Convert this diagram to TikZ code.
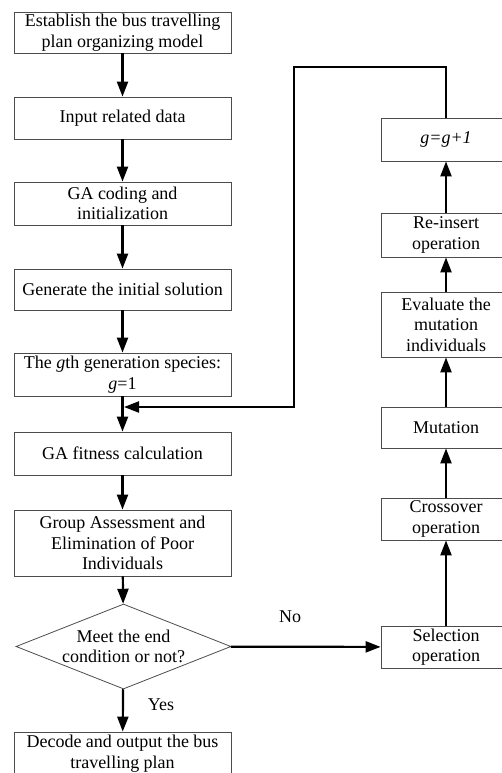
\documentclass[tikz,border=0pt]{standalone}
\usepackage{fontspec}
\setmainfont{Liberation Serif}
\usetikzlibrary{arrows.meta,shapes.geometric}
\tikzset{
  txt/.style={font=\fontsize{18}{20.5}\selectfont},
  lbox/.style={txt,draw=black!70,line width=0.8pt,minimum width=217pt,inner sep=0pt,align=center},
  rbox/.style={txt,draw=black!70,line width=0.8pt,minimum width=130pt,inner sep=0pt,align=center},
  conn/.style={line width=2.2pt,-{Triangle[length=15pt,width=11pt]}},
  plain/.style={line width=2.2pt},
}
\begin{document}
\begin{tikzpicture}[x=1pt,y=-1pt]
\useasboundingbox (0,0) rectangle (501,773);
% left column
\node[lbox,minimum height=41pt] (b1) at (122.5,32.5) {Establish the bus travelling\\plan organizing model};
\node[lbox,minimum height=42pt] (b2) at (122.5,118) {Input related data};
\node[lbox,minimum height=43pt] (b3) at (122.5,203.5) {GA coding and\\initialization};
\node[lbox,minimum height=41pt] (b4) at (122.5,289.5) {Generate the initial solution};
\node[lbox,minimum height=43pt] (b5) at (122.5,374.5) {The \textit{g}th generation species:\\\textit{g}=1};
\node[lbox,minimum height=43pt] (b6) at (122.5,453.5) {GA fitness calculation};
\node[lbox,minimum height=66pt] (b7) at (122.5,543) {Group Assessment and\\Elimination of Poor\\Individuals};
\node[diamond,draw=black!70,line width=0.8pt,minimum width=215pt,minimum height=85pt,inner sep=0pt] (dec) at (123.5,646.5) {};
\node[txt,align=center] (dectext) at (dec.center) {Meet the end\\condition or not?};
\node[lbox,minimum height=43pt] (b8) at (122.5,753.5) {Decode and output the bus\\travelling plan};
% right column
\node[rbox,minimum height=43pt] (gg) at (446,139.5) {\textit{g=g+1}};
\node[rbox,minimum height=44pt] (ri) at (446,235) {Re-insert\\operation};
\node[rbox,minimum height=65pt] (ev) at (446,324.5) {Evaluate the\\mutation\\individuals};
\node[rbox,minimum height=41pt] (mu) at (446,427.5) {Mutation};
\node[rbox,minimum height=42pt] (co) at (446,519) {Crossover\\operation};
\node[rbox,minimum height=42pt] (se) at (446,647) {Selection\\operation};
% labels
\node[txt] (yes) at (161,705) {Yes};
\node[txt] (no) at (290,617) {No};
% coordinates of the loop
\coordinate (t1) at (446,67);
\coordinate (t2) at (294,67);
\coordinate (t3) at (294,407);
\coordinate (merge) at (124,407);
% connectors
\draw[conn] (b1) -- (b2);
\draw[conn] (b2) -- (b3);
\draw[conn] (b3) -- (b4);
\draw[conn] (b4) -- (b5);
\draw[conn] (b5) -- (b6);
\draw[conn] (b6) -- (b7);
\draw[conn] (b7) -- (dec);
\draw[conn] (dec) -- (b8);
\draw[conn] (dec) -- (se);
\draw[conn] (se) -- (co);
\draw[conn] (co) -- (mu);
\draw[conn] (mu) -- (ev);
\draw[conn] (ev) -- (ri);
\draw[conn] (ri) -- (gg);
\draw[conn] (gg) -- (t1) -- (t2) -- (t3) -- (merge);
\end{tikzpicture}
\end{document}
